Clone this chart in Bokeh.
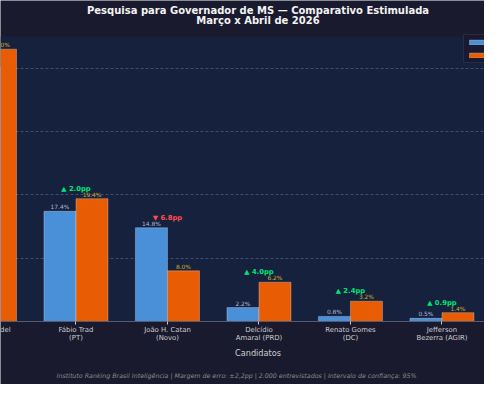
from bokeh.plotting import figure
from bokeh.models import Range1d, FixedTicker, Label, ColumnDataSource, BoxAnnotation
from bokeh.core.properties import value
from bokeh.embed import file_html
from bokeh.resources import INLINE
import numpy as np

# ---- data ----
candidatos = ["Eduardo Riedel\n(PP)", "Fábio Trad\n(PT)", "João H. Catan\n(Novo)",
              "Delcídio\nAmaral (PRD)", "Renato Gomes\n(DC)", "Jefferson\nBezerra (AGIR)"]
marco = [40.2, 17.4, 14.8, 2.2, 0.8, 0.5]
abril = [43.0, 19.4, 8.0, 6.2, 3.2, 1.4]
series_names = ["Março 2026", "Abril 2026"]
grid_ticks = [10, 20, 30, 40]
y_max = 45
titulo1 = "Pesquisa para Governador de MS — Comparativo Estimulada"
titulo2 = "Março x Abril de 2026"
eixo_x = "Candidatos"
rodape = ("Instituto Ranking Brasil Inteligência  |  Margem de erro: ±2,2pp  |  "
          "2.000 entrevistados  |  Intervalo de confiança: 95%")

# ---- style / layout ----
FONT = "DejaVu Sans"
BG = "#1a1a2e"
PLOT_BG = "#16213e"
BLUE = "#4a90d9"
ORANGE = "#e85d04"
GREEN = "#00e676"
RED = "#ff4d4d"
W, H = 484, 384
AREA_TOP, AREA_BOTTOM = 36, 321          # pixel rows of the plotting area
K = (AREA_BOTTOM - AREA_TOP) / y_max     # px per percentage point
BW = 0.35
TICK_FS = "6.9px"
TICK_LH = 1.1

p = figure(width=W, height=H, output_backend="svg", toolbar_location=None,
           title=None,
           x_range=Range1d(0.175, 5.465),
           y_range=Range1d(-(H - AREA_BOTTOM) / K, y_max + AREA_TOP / K),
           y_axis_location=None,
           min_border=0,
           background_fill_color=BG, border_fill_color=BG,
           outline_line_color=None)

# plotting area background
p.add_layout(BoxAnnotation(bottom=0, top=y_max, fill_color=PLOT_BG, fill_alpha=1,
                           line_color=None, level="image"))

idx = np.arange(len(candidatos))
m = np.array(marco)
a = np.array(abril)
d = np.round(a - m, 1)
mx = np.maximum(m, a)

src = ColumnDataSource(dict(
    xb=idx - BW / 2, xo=idx + BW / 2, x=idx,
    marco=m, abril=a,
    lb=[f"{v:.1f}%" for v in m], lo=[f"{v:.1f}%" for v in a],
    yb=m + 0.15, yo=a + 0.15,
    dt=[(f"▲ {v:.1f}pp" if v >= 0 else f"▼ {abs(v):.1f}pp") for v in d],
    dc=[GREEN if v >= 0 else RED for v in d],
    dy=mx + 1.55,
))

# grid
p.xgrid.visible = False
p.ygrid.ticker = FixedTicker(ticks=grid_ticks)
p.ygrid.grid_line_color = "#7a84a3"
p.ygrid.grid_line_alpha = 0.55
p.ygrid.grid_line_dash = "3 2"
p.ygrid.grid_line_width = 0.8

p.vbar(x="xb", top="marco", width=BW, source=src, fill_color=BLUE,
       line_color="#ffffff", line_alpha=0.35, line_width=0.8,
       legend_label=series_names[0])
p.vbar(x="xo", top="abril", width=BW, source=src, fill_color=ORANGE,
       line_color="#ffffff", line_alpha=0.35, line_width=0.8,
       legend_label=series_names[1])

p.text(x="xb", y="yb", text="lb", source=src, text_align="center",
       text_baseline="bottom", text_font=value(FONT), text_font_size="5.9px",
       text_color="#a9bcd9")
p.text(x="xo", y="yo", text="lo", source=src, text_align="center",
       text_baseline="bottom", text_font=value(FONT), text_font_size="5.9px",
       text_color="#d4ac2b")
p.text(x="x", y="dy", text="dt", source=src, text_align="center",
       text_baseline="middle", text_font=value(FONT), text_font_size="6.8px",
       text_font_style="bold", text_color="dc")

# x axis drawn at y = 0
ax = p.xaxis[0]
ax.fixed_location = 0
ax.ticker = FixedTicker(ticks=list(idx))
ax.major_label_overrides = {int(i): c for i, c in zip(idx, candidatos)}
ax.major_label_text_font = FONT
ax.major_label_text_font_size = TICK_FS
ax.major_label_text_color = "#cccccc"
ax.major_label_text_line_height = TICK_LH
ax.major_label_standoff = 1
ax.major_tick_out = 3
ax.major_tick_in = 0
ax.major_tick_line_color = "#cccccc"
ax.minor_tick_line_color = None
ax.axis_line_color = "#555b70"

# first category label (its tick lies left of the visible area)
p.add_layout(Label(x=float(idx[0]), y=H - AREA_BOTTOM - 4, x_units="data", y_units="screen",
                   text=candidatos[0], text_align="center", text_baseline="top",
                   text_font=FONT, text_font_size=TICK_FS, text_color="#cccccc",
                   text_line_height=TICK_LH))

# titles and footer
def txt(t, x, y_from_top, size, style="normal", color="#cccccc"):
    p.add_layout(Label(x=x, y=H - y_from_top, x_units="screen", y_units="screen",
                       text=t, text_align="center", text_baseline="middle",
                       text_font=FONT, text_font_size=size, text_font_style=style,
                       text_color=color))

txt(titulo1, 257.5, 9.6, "10px", "bold", "#f2f2f2")
txt(titulo2, 257.5, 20.2, "10px", "bold", "#f2f2f2")
txt(eixo_x, 257.5, 352, "8.2px")
txt(rodape, 242, 374.5, "6.3px", "italic", "#8a8a8a")

# legend
lg = p.legend[0]
lg.location = (463, H - 38.4 - 25)
lg.background_fill_color = BG
lg.background_fill_alpha = 0.9
lg.border_line_color = "#3a3f55"
lg.glyph_width = 20
lg.glyph_height = 6
lg.label_height = 7
lg.spacing = 5
lg.padding = 3
lg.margin = 0
lg.label_standoff = 4
lg.label_text_font = FONT
lg.label_text_font_size = "6.5px"
lg.label_text_color = "#cccccc"

open("out.html", "w").write(file_html(p, INLINE))
